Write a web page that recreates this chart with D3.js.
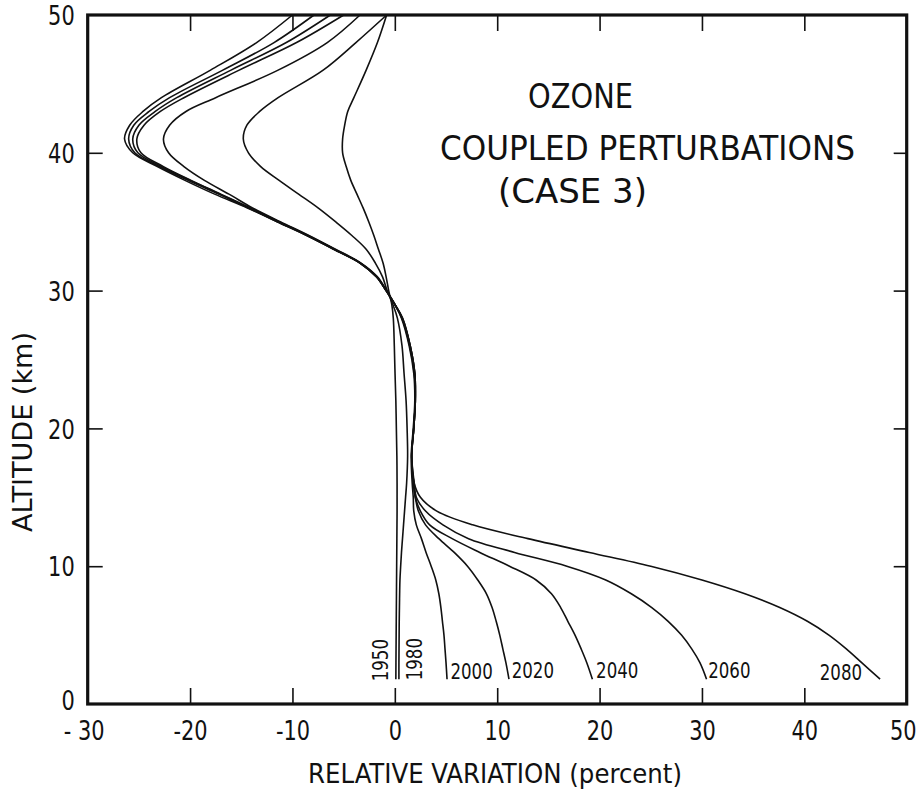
<!DOCTYPE html>
<html>
<head>
<meta charset="utf-8">
<script src="https://cdn.jsdelivr.net/npm/d3@7"></script>
<style>
  html, body { margin: 0; padding: 0; background: #fff; }
  svg text { font-family: "DejaVu Sans Condensed", "DejaVu Sans", sans-serif; fill: #111; }
</style>
</head>
<body>
<svg id="chart" width="922" height="791"></svg>
<script>
// Altitude levels (km) at which each profile is sampled, top to bottom
const altitudes = [50, 48, 46, 44, 43, 42, 41, 40, 39, 38, 37, 36, 35, 34, 33, 32, 31, 30, 29, 28,
                   26, 24, 22, 20, 18, 16, 15, 14, 13, 12, 11, 10, 9, 8, 7, 6, 5, 4, 3, 1.8];

// Relative ozone variation (percent) for each year, one value per altitude level
const years = ["1950", "1980", "2000", "2020", "2040", "2060", "2080"];
const v1950 = [-0.8, -1.7, -2.8, -4.0, -4.6, -4.9, -5.1, -5.1, -4.75, -4.3, -3.7, -3.1, -2.55, -2.05, -1.6, -1.15, -0.85, -0.6, -0.3, -0.15,
               -0.05, 0.02, 0.1, 0.15, 0.2, 0.22, 0.22, 0.22, 0.21, 0.2, 0.19, 0.18, 0.17, 0.16, 0.15, 0.14, 0.13, 0.12, 0.11, 0.1];
const v1980 = [-0.8, -3.8, -7.0, -11.4, -13.2, -14.45, -14.8, -14.3, -13.1, -11.3, -9.4, -7.5, -5.8, -4.2, -2.8, -1.9, -1.2, -0.75, -0.2, 0.25,
               0.7, 0.9, 1.1, 1.2, 1.25, 1.15, 1.05, 0.95, 0.85, 0.75, 0.65, 0.57, 0.5, 0.47, 0.45, 0.43, 0.42, 0.41, 0.4, 0.4];
const v2000 = [-3.4, -6.6, -11.4, -17.5, -20.4, -22.0, -22.6, -22.1, -20.6, -18.6, -16.2, -13.9, -11.2, -8.4, -5.8, -3.3, -1.7, -0.8, 0.0, 0.65,
               1.4, 1.85, 1.95, 1.8, 1.6, 1.7, 1.8, 1.85, 2.1, 2.6, 3.05, 3.55, 4.0, 4.3, 4.5, 4.65, 4.8, 4.9, 5.0, 5.1];
const v2020 = [-5.0, -9.6, -15.2, -20.6, -22.9, -24.5, -25.2, -24.8, -22.6, -19.9, -17.0, -14.1, -11.3, -8.5, -5.9, -3.35, -1.75, -0.85, 0.0, 0.7,
               1.45, 1.9, 2.0, 1.85, 1.65, 1.8, 2.0, 2.3, 3.0, 4.3, 5.8, 7.1, 8.1, 8.95, 9.5, 9.9, 10.25, 10.55, 10.85, 11.15];
const v2040 = [-6.3, -10.6, -16.0, -21.3, -23.4, -25.0, -25.6, -25.1, -22.8, -20.0, -17.1, -14.2, -11.4, -8.5, -5.9, -3.4, -1.8, -0.85, 0.0, 0.7,
               1.5, 1.95, 2.0, 1.85, 1.65, 1.85, 2.0, 2.5, 3.4, 5.6, 8.3, 11.2, 13.8, 15.3, 16.2, 16.9, 17.6, 18.2, 18.75, 19.3];
const v2060 = [-7.9, -11.8, -16.8, -22.0, -24.0, -25.5, -26.0, -25.4, -23.0, -20.2, -17.2, -14.3, -11.5, -8.6, -5.95, -3.4, -1.8, -0.85, 0.0, 0.75,
               1.5, 1.95, 2.0, 1.85, 1.65, 1.9, 2.1, 3.0, 4.7, 7.2, 11.7, 16.8, 20.6, 23.1, 25.1, 26.7, 28.0, 29.0, 29.8, 30.45];
const v2080 = [-10.0, -13.5, -18.0, -22.8, -24.6, -25.9, -26.4, -25.6, -23.2, -20.5, -17.6, -14.4, -11.5, -8.6, -6.0, -3.4, -1.8, -0.85, 0.0, 0.75,
               1.5, 1.95, 2.0, 1.85, 1.65, 1.9, 2.5, 4.1, 7.6, 13.0, 19.0, 25.0, 30.0, 34.2, 37.6, 40.3, 42.4, 44.1, 45.6, 47.4];
const seriesValues = [v1950, v1980, v2000, v2020, v2040, v2060, v2080];

// Axis ticks and labels
const xLabelValues = [-30, -20, -10, 0, 10, 20, 30, 40, 50];
const xLabels = ["- 30", "-20", "-10", "0", "10", "20", "30", "40", "50"];
const xInnerTicks = [-20, -10, 0, 10, 20, 30, 40];
const yLabelValues = [0, 10, 20, 30, 40, 50];
const yLabels = ["0", "10", "20", "30", "40", "50"];
const yInnerTicks = [10, 20, 30, 40];

const titleLines = ["OZONE", "COUPLED PERTURBATIONS", "(CASE 3)"];
const xTitle = "RELATIVE VARIATION (percent)";
const yTitle = "ALTITUDE (km)";

// ---- drawing ----
const svg = d3.select("#chart");
const x = d3.scaleLinear().domain([-30, 50]).range([87.7, 906.7]);
const y = d3.scaleLinear().domain([0, 50]).range([704, 15]);

// condense glyphs horizontally to get the tall, narrow lettering
function narrow(sel, factor) {
  sel.each(function () {
    const w = this.getComputedTextLength();
    d3.select(this).attr("textLength", w * factor).attr("lengthAdjust", "spacingAndGlyphs");
  });
}

// inward ticks on all four sides
svg.append("g").attr("transform", `translate(0,${y(0)})`)
  .call(d3.axisBottom(x).tickValues(xInnerTicks).tickSize(-16).tickFormat(""));
svg.append("g").attr("transform", `translate(0,${y(50)})`)
  .call(d3.axisTop(x).tickValues(xInnerTicks).tickSize(-16).tickFormat(""));
svg.append("g").attr("transform", `translate(${x(-30)},0)`)
  .call(d3.axisLeft(y).tickValues(yInnerTicks).tickSize(-15).tickFormat(""));
svg.append("g").attr("transform", `translate(${x(50)},0)`)
  .call(d3.axisRight(y).tickValues(yInnerTicks).tickSize(-13).tickFormat(""));

// tick labels
const gxl = svg.append("g").attr("transform", `translate(0,${y(0)})`)
  .call(d3.axisBottom(x).tickValues(xLabelValues).tickSize(0).tickPadding(17)
        .tickFormat((d, i) => xLabels[i]));
const gyl = svg.append("g").attr("transform", `translate(${x(-30)},0)`)
  .call(d3.axisLeft(y).tickValues(yLabelValues).tickSize(0).tickPadding(13)
        .tickFormat((d, i) => yLabels[i]));
[gxl, gyl].forEach(g => g.selectAll("text")
  .attr("font-size", 27).attr("fill", "#111")
  .style("font-family", '"DejaVu Sans Condensed","DejaVu Sans",sans-serif'));
gyl.selectAll("text").attr("dy", d => d === 0 ? "0.2em" : "0.36em");
gxl.selectAll("text").attr("dx", d => d === -30 ? -4 : (d === 50 ? -4 : 0));
narrow(gxl.selectAll("text"), 0.86);
narrow(gyl.selectAll("text"), 0.86);

svg.selectAll(".domain").remove();
svg.selectAll(".tick line").attr("stroke", "#111").attr("stroke-width", 1.6);

// plot frame
svg.append("rect")
  .attr("x", x(-30)).attr("y", y(50))
  .attr("width", x(50) - x(-30)).attr("height", y(0) - y(50))
  .attr("fill", "none").attr("stroke", "#111").attr("stroke-width", 3.2);

// profiles
const line = d3.line()
  .x(d => x(d[0]))
  .y(d => y(d[1]))
  .curve(d3.curveCatmullRom.alpha(0.5));

const series = years.map((yr, i) => ({
  year: yr,
  points: seriesValues[i].map((v, j) => [v, altitudes[j]])
}));

svg.append("g").selectAll("path").data(series).join("path")
  .attr("d", d => line(d.points))
  .attr("fill", "none")
  .attr("stroke", "#111")
  .attr("stroke-width", 1.6)
  .attr("stroke-linejoin", "round");

// year labels at the lower end of each profile
const labelLayout = {
  "1950": { dx: -7.5, dy: -19, rotate: true },
  "1980": { dx: 22.8, dy: -20, rotate: true },
  "2000": { dx: 3.4, dy: 0, anchor: "start" },
  "2020": { dx: 2.7, dy: -1, anchor: "start" },
  "2040": { dx: 3.7, dy: -1, anchor: "start" },
  "2060": { dx: 1.6, dy: -1, anchor: "start" },
  "2080": { dx: -18, dy: 1, anchor: "end" }
};
const yearLabels = [];
series.forEach(s => {
  const end = s.points[s.points.length - 1];
  const px = x(end[0]), py = y(end[1]);
  const L = labelLayout[s.year];
  const t = svg.append("text").attr("font-size", 22).text(s.year);
  if (L.rotate) {
    t.attr("text-anchor", "middle")
     .attr("transform", `translate(${px + L.dx},${py + L.dy}) rotate(-90)`);
  } else {
    t.attr("text-anchor", L.anchor).attr("x", px + L.dx).attr("y", py + L.dy);
  }
  yearLabels.push(t.node());
});
narrow(d3.selectAll(yearLabels), 0.84);

// title block
const titleLayout = [
  { x: 528, y: 108, len: 105 },
  { x: 440, y: 160, len: 415 },
  { x: 498, y: 203, len: 149 }
];
titleLines.forEach((txt, i) => {
  svg.append("text")
    .attr("x", titleLayout[i].x).attr("y", titleLayout[i].y)
    .attr("font-size", 33)
    .attr("textLength", titleLayout[i].len)
    .attr("lengthAdjust", "spacingAndGlyphs")
    .text(txt);
});

// axis titles
svg.append("text")
  .attr("x", 495).attr("y", 783)
  .attr("text-anchor", "middle")
  .attr("font-size", 27)
  .attr("textLength", 374).attr("lengthAdjust", "spacingAndGlyphs")
  .text(xTitle);
svg.append("text")
  .attr("transform", "translate(32,432) rotate(-90)")
  .attr("text-anchor", "middle")
  .attr("font-size", 27)
  .attr("textLength", 200).attr("lengthAdjust", "spacingAndGlyphs")
  .text(yTitle);
</script>
</body>
</html>
